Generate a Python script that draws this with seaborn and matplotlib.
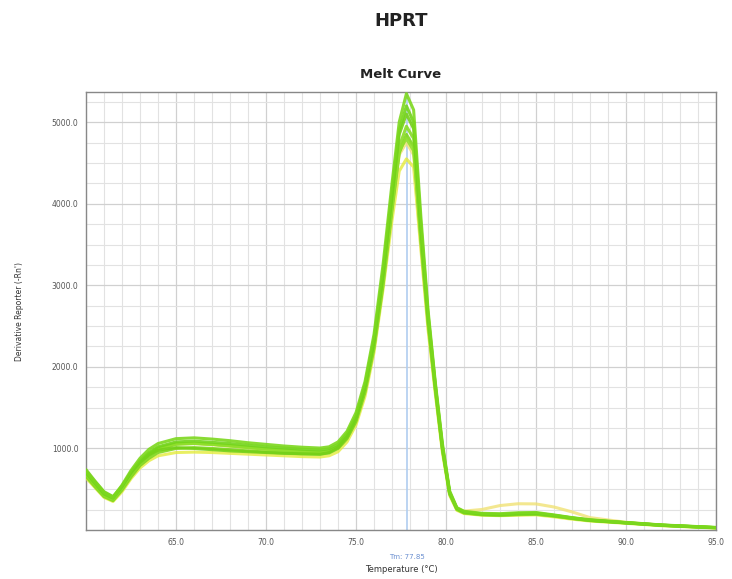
import matplotlib
matplotlib.use("Agg")
import matplotlib.pyplot as plt
import seaborn as sns
import pandas as pd
from matplotlib.ticker import MultipleLocator

# ---- data ----
temps = [60.0, 60.5, 61.0, 61.5, 62.0, 62.5, 63.0, 63.5, 64.0, 65.0, 66.0, 67.0,
         68.0, 69.0, 70.0, 71.0, 72.0, 73.0, 73.5, 74.0, 74.5, 75.0, 75.5, 76.0,
         76.5, 77.0, 77.4, 77.8, 78.2, 78.6, 79.0, 79.4, 79.8, 80.2, 80.6, 81.0,
         82.0, 83.0, 84.0, 85.0, 86.0, 87.0, 88.0, 90.0, 92.0, 95.0]

g1 = [720, 590, 460, 400, 550, 730, 880, 990, 1060, 1120, 1130, 1115, 1095, 1070, 1050, 1030,
      1015, 1005, 1020, 1080, 1210, 1440, 1820, 2400, 3250, 4250, 5000, 5350, 5150, 3850, 2700,
      1820, 1060, 480, 275, 230, 205, 200, 212, 215, 185, 152, 126, 92, 62, 32]
g2 = [700, 570, 440, 390, 530, 710, 850, 950, 1020, 1080, 1090, 1075, 1060, 1040, 1020, 1005,
      990, 980, 995, 1050, 1180, 1400, 1780, 2340, 3150, 4150, 4900, 5200, 5000, 3750, 2650,
      1790, 1030, 465, 268, 222, 198, 192, 203, 208, 180, 149, 122, 90, 60, 30]
g3 = [680, 550, 420, 370, 510, 680, 820, 920, 990, 1050, 1060, 1050, 1035, 1015, 995, 980,
      965, 955, 970, 1025, 1150, 1370, 1730, 2280, 3080, 4000, 4700, 4950, 4800, 3620, 2580,
      1750, 1000, 450, 258, 214, 190, 184, 192, 198, 174, 143, 118, 88, 58, 28]
g4 = [660, 530, 410, 360, 490, 650, 790, 880, 950, 1000, 1010, 1000, 985, 970, 955, 945,
      935, 930, 945, 1000, 1120, 1330, 1690, 2230, 3000, 3920, 4620, 4850, 4700, 3550, 2540,
      1730, 985, 442, 252, 209, 186, 181, 189, 193, 171, 141, 116, 86, 56, 26]
g5 = [740, 600, 470, 410, 540, 700, 830, 920, 980, 1010, 1000, 985, 970, 960, 950, 940,
      935, 930, 950, 1010, 1140, 1360, 1740, 2300, 3120, 4080, 4850, 5100, 4920, 3680, 2620,
      1780, 1015, 458, 264, 219, 193, 187, 197, 203, 177, 147, 120, 89, 59, 29]
g6 = [690, 560, 430, 380, 520, 690, 830, 935, 1005, 1060, 1065, 1050, 1030, 1010, 990, 975,
      960, 950, 965, 1020, 1145, 1360, 1720, 2260, 3050, 3960, 4650, 4800, 4650, 3580, 2560,
      1740, 995, 452, 260, 215, 191, 185, 194, 199, 175, 145, 119, 88, 58, 28]
y1 = [640, 520, 400, 350, 470, 630, 760, 850, 910, 950, 955, 950, 940, 930, 920, 910,
      900, 895, 910, 960, 1080, 1290, 1640, 2180, 2950, 3800, 4400, 4550, 4450, 3450, 2460,
      1680, 950, 425, 242, 202, 182, 176, 181, 186, 161, 133, 110, 82, 52, 24]
y2 = [700, 575, 445, 395, 525, 690, 830, 930, 1000, 1055, 1060, 1045, 1025, 1005, 985, 970,
      955, 945, 962, 1015, 1140, 1350, 1710, 2250, 3030, 3930, 4600, 4750, 4600, 3500, 2500,
      1710, 975, 445, 258, 232, 252, 300, 322, 320, 282, 222, 152, 95, 60, 28]

series = {"g1": g1, "g2": g2, "g3": g3, "g4": g4, "g5": g5, "g6": g6, "y1": y1, "y2": y2}
colors = {"g1": "#7cd81e", "g2": "#72d41a", "g3": "#88dc26", "g4": "#7ed61c",
          "g5": "#74d018", "g6": "#90e02c", "y1": "#e4ec3c", "y2": "#f0e274"}

x_ticks = [65.0, 70.0, 75.0, 80.0, 85.0, 90.0, 95.0]
y_ticks = [1000.0, 2000.0, 3000.0, 4000.0, 5000.0]
tm_value = 77.85

rows = []
for name, vals in series.items():
    for t, v in zip(temps, vals):
        rows.append({"temp": t, "value": v, "well": name})
df = pd.DataFrame(rows)

sns.set_theme(style="white")
plt.rcParams["font.family"] = ["DejaVu Sans"]

fig = plt.figure(figsize=(7.32, 5.79), dpi=100)
ax = fig.add_axes([0.1175, 0.0846, 0.8607, 0.7565])

ax.axvline(tm_value, color="#b0cdf0", lw=1.2, zorder=1)

order = ["y1", "y2", "g4", "g3", "g6", "g5", "g2", "g1"]
for name in order:
    sub = df[df["well"] == name]
    sns.lineplot(data=sub, x="temp", y="value", color=colors[name], lw=2.2,
                 alpha=0.9 if name.startswith("g") else 0.8, ax=ax, legend=False, zorder=3)

ax.set_xlim(60, 95)
ax.set_ylim(0, 5370)
ax.xaxis.set_major_locator(MultipleLocator(5))
ax.xaxis.set_minor_locator(MultipleLocator(1))
ax.yaxis.set_major_locator(MultipleLocator(1000))
ax.yaxis.set_minor_locator(MultipleLocator(250))
ax.set_xticks(x_ticks)
ax.set_xticklabels([f"{t:.1f}" for t in x_ticks])
ax.set_yticks(y_ticks)
ax.set_yticklabels([f"{t:.1f}" for t in y_ticks])
ax.grid(which="major", color="#d0d0d0", lw=0.9)
ax.grid(which="minor", color="#e2e2e2", lw=0.8)
ax.set_axisbelow(True)
ax.tick_params(axis="both", which="major", labelsize=5.5, colors="#555555", length=2)
ax.tick_params(axis="both", which="minor", length=0)
for s in ax.spines.values():
    s.set_color("#888888")
    s.set_linewidth(1.0)

ax.set_xlabel("Temperature (°C)", fontsize=6, color="#333333", labelpad=13)
ax.set_ylabel("Derivative Reporter (-Rn')", fontsize=5.5, color="#333333", labelpad=20)
ax.set_title("Melt Curve", fontsize=9.5, fontweight="bold", color="#222222", pad=10)
ax.text(tm_value, -0.062, "Tm: 77.85", transform=ax.get_xaxis_transform(),
        ha="center", va="center", fontsize=5, color="#6a8fd0")

fig.text(0.548, 0.963, "HPRT", ha="center", va="center", fontsize=13,
         fontweight="bold", color="#222222")

fig.savefig("out.png", dpi=100)
